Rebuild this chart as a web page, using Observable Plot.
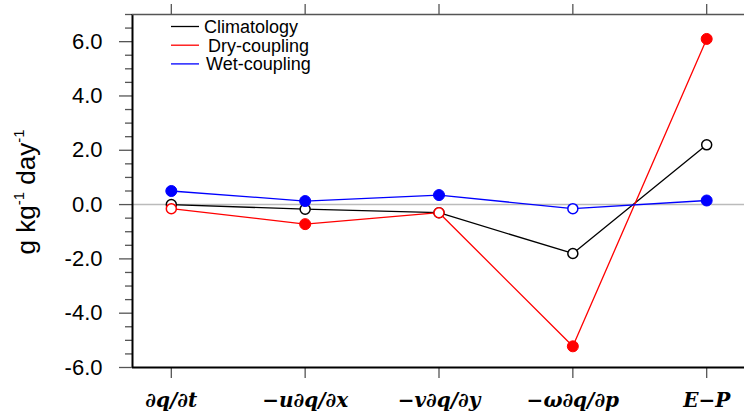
<!DOCTYPE html>
<html><head><meta charset="utf-8">
<script src="https://cdn.jsdelivr.net/npm/d3@7"></script>
<script src="https://cdn.jsdelivr.net/npm/@observablehq/plot@0.6"></script>
<style>body{margin:0;background:#fff}</style>
</head><body><div id="chart"></div>
<script>
const terms = ["∂q/∂t", "−u∂q/∂x", "−v∂q/∂y", "−ω∂q/∂p", "E−P"];
const climatology = [0.0, -0.17, -0.3, -1.8, 2.2];
const dryCoupling = [-0.15, -0.72, -0.3, -5.22, 6.1];
const wetCoupling = [0.5, 0.13, 0.35, -0.15, 0.15];
const climFilled = [false, false, false, false, false];
const dryFilled = [false, true, false, true, true];
const wetFilled = [true, true, true, false, true];
const seriesNames = ["Climatology", "Dry-coupling", "Wet-coupling"];
const seriesColors = ["black", "red", "blue"];
const yMajorTicks = [-6, -4, -2, 0, 2, 4, 6];
const yLabel = ["g kg", "-1", " day", "-1"];

const seriesValues = [climatology, dryCoupling, wetCoupling];
const seriesFilled = [climFilled, dryFilled, wetFilled];
const data = [];
seriesNames.forEach((name, s) => {
  seriesValues[s].forEach((v, i) => data.push({series: name, i, v, filled: seriesFilled[s][i], color: seriesColors[s]}));
});
const yMinorTicks = d3.range(-6, 7.01, 0.5).filter(t => !yMajorTicks.includes(t));
const xIdx = terms.map((_, i) => i);
const none = () => "";

const plot = Plot.plot({
  width: 744, height: 419,
  marginLeft: 132, marginRight: 0, marginTop: 14, marginBottom: 52,
  style: {background: "white", overflow: "visible"},
  x: {domain: [-0.29, 4.29], range: [132, 745]},
  y: {domain: [-6, 7], range: [367, 14]},
  marks: [
    Plot.ruleY([0], {stroke: "#bbb", strokeWidth: 1.5}),
    Plot.axisY({ticks: yMinorTicks, tickSize: 7, tickFormat: none, label: null, stroke: "#555", strokeWidth: 1.3}),
    Plot.axisY({ticks: yMajorTicks, tickSize: 13, tickPadding: 17, tickFormat: d => d.toFixed(1), label: null,
      fontSize: 22, fontFamily: "Liberation Sans, Arial, sans-serif", stroke: "#555", strokeWidth: 1.3, fill: "black"}),
    Plot.axisX({ticks: xIdx, tickSize: 11, tickPadding: 14, tickFormat: i => terms[i], label: null,
      fontSize: 20, fontFamily: "DejaVu Serif, serif", fontStyle: "italic", fontWeight: "bold", stroke: "#555", strokeWidth: 1.3, fill: "black"}),
    Plot.axisX({anchor: "top", ticks: xIdx, tickSize: 11, tickFormat: none, label: null, stroke: "#555", strokeWidth: 1.3}),
    Plot.ruleX([-0.29], {stroke: "black", strokeWidth: 2}),
    Plot.ruleY([-6], {stroke: "black", strokeWidth: 2.2}),
    Plot.ruleY([7], {stroke: "#555", strokeWidth: 1.5}),
    Plot.line(data, {x: "i", y: "v", z: "series", stroke: "color", strokeWidth: 1.3}),
    Plot.dot(data.filter(d => !d.filled), {x: "i", y: "v", r: 5, fill: "white", stroke: "color", strokeWidth: 1.5}),
    Plot.dot(data.filter(d => d.filled), {x: "i", y: "v", r: 5.5, fill: "color", stroke: "color", strokeWidth: 1})
  ]
});
document.getElementById("chart").appendChild(plot);

const svg = d3.select(plot);
// y-axis title
const t = svg.append("text")
  .attr("transform", "translate(35,192) rotate(-90)")
  .attr("text-anchor", "middle")
  .attr("font-family", "Liberation Sans, Arial, sans-serif")
  .attr("font-size", 26)
  .attr("fill", "black");
t.append("tspan").text(yLabel[0]);
t.append("tspan").attr("font-size", 15).attr("dy", -11).text(yLabel[1]);
t.append("tspan").attr("dy", 11).text(yLabel[2]);
t.append("tspan").attr("font-size", 15).attr("dy", -11).text(yLabel[3]);

// legend
const lg = svg.append("g").attr("font-family", "Liberation Sans, Arial, sans-serif").attr("font-size", 18).attr("text-anchor", "start");
const legendX = [204, 208, 206];
seriesNames.forEach((name, k) => {
  const y = 26.5 + k * 18.7;
  lg.append("line").attr("x1", 171).attr("x2", 199).attr("y1", y).attr("y2", y).attr("stroke", seriesColors[k]).attr("stroke-width", 1.3);
  lg.append("text").attr("x", legendX[k]).attr("y", y).attr("dy", "0.35em").attr("fill", "black").text(name);
});
</script></body></html>
